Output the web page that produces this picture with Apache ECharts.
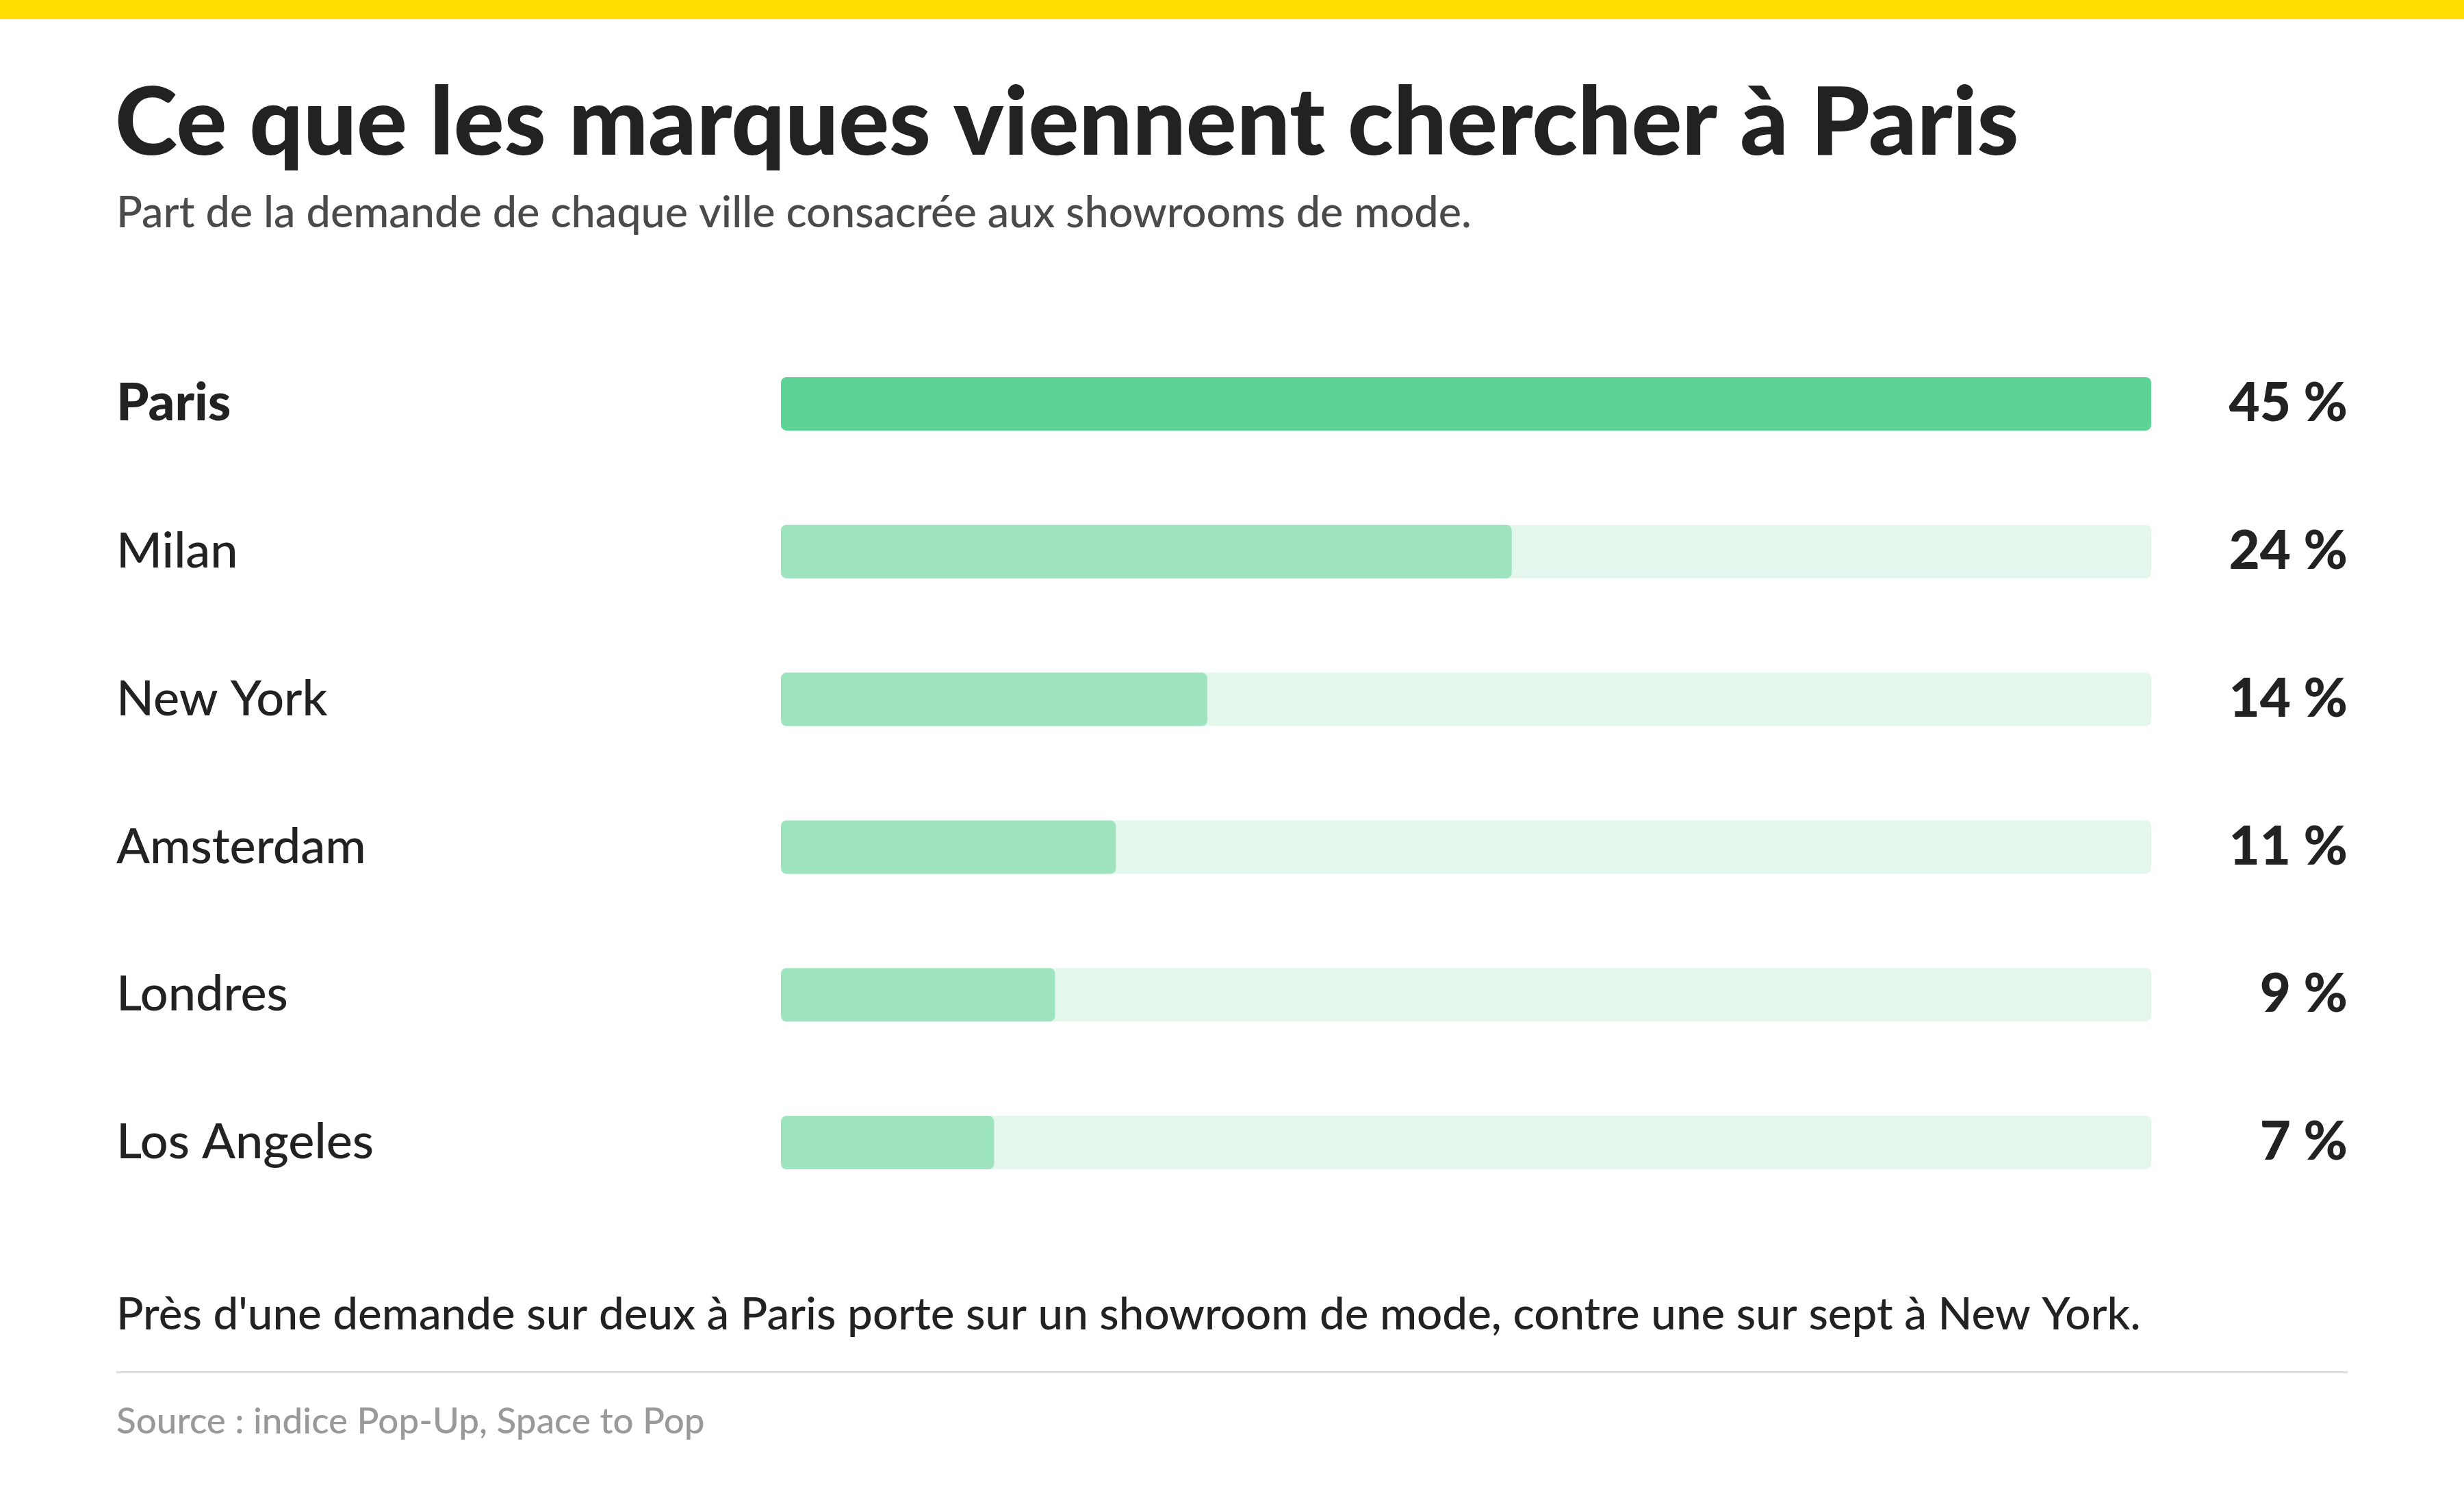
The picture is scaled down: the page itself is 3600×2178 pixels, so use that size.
<!DOCTYPE html>
<html lang="fr">
  <head>
    <meta charset="UTF-8" />
    <title>Ce que les marques viennent chercher à Paris</title>
    <script src="https://cdn.jsdelivr.net/npm/echarts@6.0.0/dist/echarts.min.js"></script>
    <style>
      html, body { margin: 0; padding: 0; background: #fff; }
      #main { width: 3600px; height: 2178px; }
    </style>
  </head>
  <body>
    <div id="main"></div>
    <script>
      const cities = ['Paris', 'Milan', 'New York', 'Amsterdam', 'Londres', 'Los Angeles'];
      const shares = [45, 24, 14, 11, 9, 7];
      const shareLabels = ['45 %', '24 %', '14 %', '11 %', '9 %', '7 %'];

      const FONT = 'Lato, "Open Sans", sans-serif';
      const INK = '#222222';

      function textEl(text, x, y, size, weight, color) {
        return {
          type: 'text',
          left: x,
          top: y,
          style: {
            text: text,
            font: weight + ' ' + size + 'px ' + FONT,
            fill: color,
          },
        };
      }

      const options = {
        animation: false,
        backgroundColor: '#ffffff',
        grid: {
          left: 1141,
          right: 457,
          top: 482,
          bottom: 401,
          containLabel: false,
        },
        xAxis: {
          type: 'value',
          min: 0,
          max: 45,
          show: false,
        },
        yAxis: [
          {
            type: 'category',
            inverse: true,
            data: cities,
            axisLine: { show: false },
            axisTick: { show: false },
            axisLabel: {
              margin: 971,
              align: 'left',
              color: INK,
              fontFamily: FONT,
              fontSize: 72,
              fontWeight: 500,
              formatter: (v, i) => (i === 0 ? '{b|' + v + '}' : v),
              rich: {
                b: { fontFamily: FONT, fontSize: 76, fontWeight: 900, color: INK },
              },
            },
          },
          {
            type: 'category',
            inverse: true,
            position: 'right',
            data: cities,
            axisLine: { show: false },
            axisTick: { show: false },
            axisLabel: {
              margin: 287,
              align: 'right',
              color: INK,
              fontFamily: FONT,
              fontSize: 78,
              fontWeight: 900,
              formatter: (v, i) => shareLabels[i],
            },
          },
        ],
        series: [
          {
            type: 'bar',
            yAxisIndex: 0,
            barWidth: 78,
            showBackground: true,
            backgroundStyle: { color: '#E3F7EC', borderRadius: 8 },
            itemStyle: { borderRadius: 8 },
            data: shares.map((v, i) => ({
              value: v,
              itemStyle: { color: i === 0 ? '#5DD396' : '#9DE4BF' },
            })),
          },
        ],
        graphic: [
          {
            type: 'rect',
            left: 0,
            top: 0,
            shape: { width: 3600, height: 28 },
            style: { fill: '#FFDD00' },
          },
          textEl('Ce que les marques viennent chercher à Paris', 168, 112, 138, '900', INK),
          textEl('Part de la demande de chaque ville consacrée aux showrooms de mode.', 170, 280, 63, '500', '#4a4a4a'),
          textEl("Près d'une demande sur deux à Paris porte sur un showroom de mode, contre une sur sept à New York.", 170, 1888, 65.5, '500', INK),
          {
            type: 'rect',
            left: 170,
            top: 2003,
            shape: { width: 3260, height: 3 },
            style: { fill: '#dddddd' },
          },
          textEl('Source : indice Pop-Up, Space to Pop', 170, 2050, 53, '500', '#999999'),
        ],
      };

      const chart = echarts.init(document.getElementById('main'));
      chart.setOption(options);
    </script>
  </body>
</html>
